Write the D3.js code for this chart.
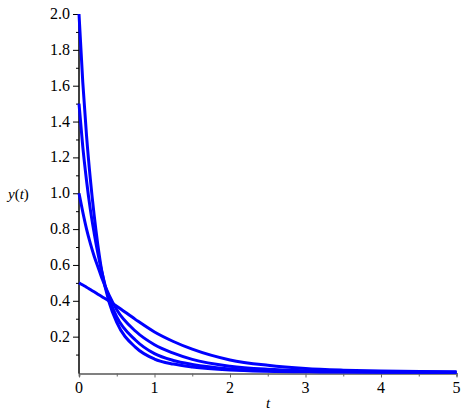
<!DOCTYPE html>
<html>
<head>
<meta charset="utf-8">
<script src="https://cdn.jsdelivr.net/npm/d3@7"></script>
<style>
  body { margin: 0; background: #fff; }
</style>
</head>
<body>
<svg id="chart"></svg>
<script>
// valeurs
const tValues = [0, 0.05, 0.1, 0.15, 0.2, 0.25, 0.3, 0.4, 0.5, 0.75, 1, 1.25, 1.5, 2, 2.5, 3, 3.5, 4, 5];
const yStart2 = [2.0, 1.62, 1.32, 1.08, 0.88, 0.71, 0.57, 0.39, 0.28, 0.14, 0.075, 0.047, 0.031, 0.014, 0.007, 0.004, 0.003, 0.002, 0.001];
const yStart15 = [1.5, 1.26, 1.07, 0.91, 0.78, 0.665, 0.565, 0.41, 0.31, 0.18, 0.105, 0.067, 0.045, 0.02, 0.01, 0.006, 0.004, 0.0025, 0.001];
const yStart1 = [1.0, 0.895, 0.80, 0.72, 0.65, 0.59, 0.53, 0.43, 0.35, 0.23, 0.155, 0.108, 0.073, 0.035, 0.018, 0.01, 0.006, 0.004, 0.0015];
const yStart05 = [0.5, 0.488, 0.476, 0.463, 0.45, 0.437, 0.424, 0.398, 0.37, 0.295, 0.226, 0.173, 0.13, 0.07, 0.04, 0.022, 0.013, 0.008, 0.003];
const series = [yStart2, yStart15, yStart1, yStart05];

const xTicks = [0, 1, 2, 3, 4, 5];
const yTicks = [0.2, 0.4, 0.6, 0.8, 1.0, 1.2, 1.4, 1.6, 1.8, 2.0];

const width = 469, height = 419;
const serif = "'Liberation Serif'";
const svg = d3.select("#chart").attr("width", width).attr("height", height);

const x = d3.scaleLinear().domain([0, 5]).range([79, 456.5]);
const y = d3.scaleLinear().domain([0, 2]).range([372.5, 14]);

// axe x (gris)
const gx = svg.append("g").attr("transform", "translate(0,373.5)");
gx.call(d3.axisBottom(x).tickValues(d3.range(0, 5.01, 0.5)).tickSize(3).tickFormat(() => ""));
gx.select(".domain").attr("stroke", "#808080").attr("stroke-width", 2);
gx.selectAll(".tick line").attr("stroke", "#666");
gx.selectAll(".tick").filter(d => Number.isInteger(d)).select("line").attr("y2", 4);

// axe y (noir)
const gy = svg.append("g").attr("transform", "translate(79,0)");
gy.call(d3.axisLeft(y).tickValues(d3.range(0.1, 2.01, 0.1)).tickSize(3).tickFormat(() => "").tickSizeOuter(0));
gy.select(".domain").attr("stroke", "#000").attr("stroke-width", 1.5).attr("d", `M0,${y(2)}V373.5`);
gy.selectAll(".tick line").attr("stroke", "#000");
gy.selectAll(".tick").filter(d => Math.round(d * 10) % 2 === 0).select("line").attr("x2", -6);

// étiquettes
const labels = svg.append("g").attr("class", "labels");

labels.selectAll("text.xl").data(xTicks).join("text")
    .attr("class", "xl")
    .attr("x", d => x(d))
    .attr("y", 393)
    .attr("text-anchor", "middle")
    .style("font-family", serif)
    .style("font-size", "16px")
    .text(d => d);

labels.selectAll("text.yl").data(yTicks).join("text")
    .attr("class", "yl")
    .attr("x", 70)
    .attr("y", d => y(d) + 5)
    .attr("text-anchor", "end")
    .style("font-family", serif)
    .style("font-size", "16px")
    .text(d => d.toFixed(1));

// titres des axes
labels.append("text")
    .attr("x", 268).attr("y", 408)
    .attr("text-anchor", "middle")
    .style("font-family", serif)
    .style("font-size", "15px")
    .style("font-style", "italic")
    .text("t");

const ylab = labels.append("text")
    .attr("x", 8).attr("y", 199)
    .style("font-family", serif)
    .style("font-size", "15px");
ylab.append("tspan").style("font-style", "italic").text("y");
ylab.append("tspan").text("(");
ylab.append("tspan").style("font-style", "italic").text("t");
ylab.append("tspan").text(")");

// courbes
const line = d3.line()
    .x((d, i) => x(tValues[i]))
    .y(d => y(d))
    .curve(d3.curveMonotoneX);

svg.append("g").selectAll("path").data(series).join("path")
    .attr("d", line)
    .attr("fill", "none")
    .attr("stroke", "#0000ff")
    .attr("stroke-width", 3)
    .attr("stroke-linejoin", "round");
</script>
</body>
</html>
